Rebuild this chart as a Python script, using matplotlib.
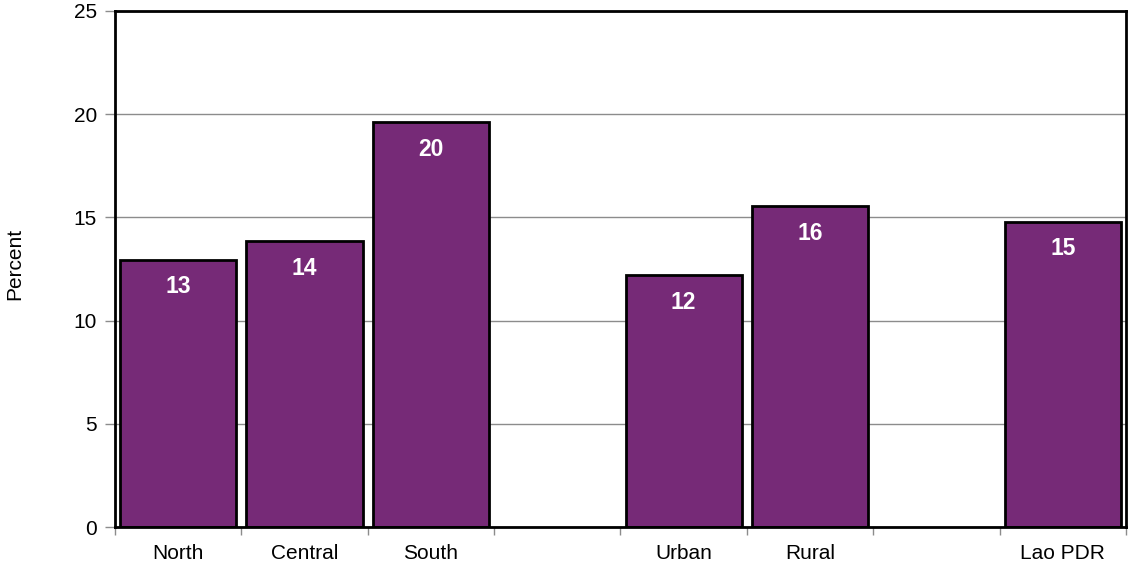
import matplotlib
matplotlib.use('Agg')
import matplotlib.pyplot as plt
import numpy as np

plt.rcParams['font.family'] = ['Liberation Sans', 'DejaVu Sans']

# data
categories = ['North', 'Central', 'South', 'Urban', 'Rural', 'Lao PDR']
positions = [0, 1, 2, 4, 5, 7]          # gaps separate region / area / total
values = [12.95, 13.85, 19.6, 12.2, 15.55, 14.8]
labels = ['13', '14', '20', '12', '16', '15']

bar_color = '#762a77'

fig = plt.figure(figsize=(11.29, 5.69), dpi=100)
ax = fig.add_axes([0.1019, 0.0738, 0.8954, 0.9069])

ax.yaxis.grid(True, color='#8c8c8c', linewidth=1)
ax.set_axisbelow(True)

bars = ax.bar(positions, values, width=0.92, color=bar_color,
              edgecolor='black', linewidth=2)

for b, lab in zip(bars, labels):
    ax.annotate(lab, (b.get_x() + b.get_width() / 2, b.get_height()),
                xytext=(0, -19.5), textcoords='offset points',
                ha='center', va='center', color='white',
                fontsize=16.5, fontweight='bold')

ax.set_xlim(-0.5, 7.5)
ax.set_ylim(0, 25)
ax.set_yticks(np.arange(0, 26, 5))

# category labels without marks, marks on slot boundaries
ax.set_xticks(positions)
ax.set_xticklabels(categories, fontsize=15)
ax.tick_params(axis='x', which='major', length=0, pad=12)
ax.set_xticks(np.arange(-0.5, 8, 1), minor=True)
ax.tick_params(axis='x', which='minor', length=6, color='#8c8c8c', width=1)
ax.tick_params(axis='y', length=7, color='#8c8c8c', width=1, labelsize=15, pad=6)

ax.set_ylabel('Percent', fontsize=15)
ax.yaxis.set_label_coords(-0.0895, 0.51)

for s in ax.spines.values():
    s.set_color('black')
    s.set_linewidth(2)

fig.savefig('out.png', dpi=100)
